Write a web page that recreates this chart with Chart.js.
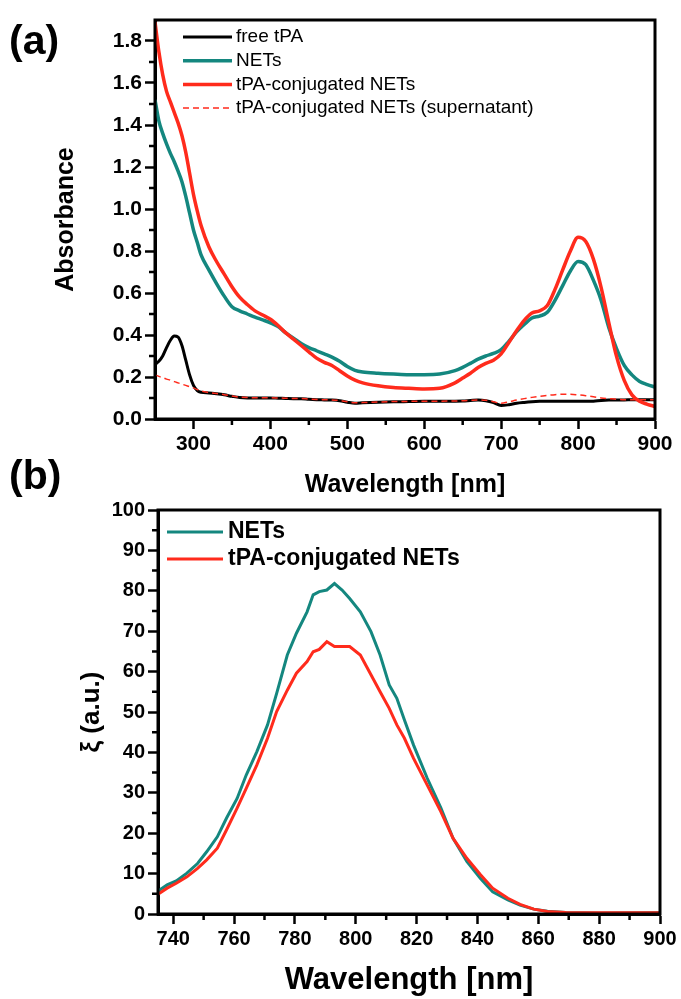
<!DOCTYPE html>
<html>
<head>
<meta charset="utf-8">
<script src="https://cdn.jsdelivr.net/npm/chart.js@4.4.0/dist/chart.umd.min.js"></script>
<style>
  body { margin: 0; background: #fff; width: 681px; height: 999px; position: relative; overflow: hidden; }
  canvas { position: absolute; left: 0; }
  #chartA { top: 0; }
  #chartB { top: 500px; }
  .tag { position: absolute; left: 9px; font: bold 41px 'Liberation Sans', Arial, sans-serif; line-height: 1; }
</style>
</head>
<body>
<canvas id="chartA" width="681" height="500"></canvas>
<canvas id="chartB" width="681" height="499"></canvas>
<div class="tag" style="top:20px">(a)</div>
<div class="tag" style="top:455px">(b)</div>
<script>
const FONT = "'Liberation Sans', Arial, sans-serif";
const TEAL = '#14877f';
const RED = '#ff2b1c';

// (a) absorbance spectra
const wavelengthA = [250,255,260,265,270,275,280,285,290,295,300,305,310,
  320,330,340,350,360,370,380,390,400,410,420,430,440,450,460,470,480,490,500,510,520,
  540,560,580,600,620,640,
  650,660,670,680,690,700,710,720,730,740,750,760,770,780,790,800,810,820,830,840,850,860,870,880,890,900];
const freeTPA = [0.26,0.275,0.30,0.34,0.375,0.395,0.39,0.35,0.28,0.21,0.16,0.135,0.127,
  0.124,0.12,0.115,0.108,0.102,0.1,0.1,0.1,0.1,0.099,0.098,0.097,0.097,0.094,0.092,0.091,0.09,0.087,0.08,0.075,0.077,
  0.08,0.082,0.083,0.084,0.084,0.085,
  0.086,0.088,0.09,0.087,0.078,0.064,0.068,0.075,0.079,0.082,0.084,0.085,0.085,0.085,0.084,0.084,0.084,0.085,0.088,0.09,0.091,0.091,0.092,0.092,0.092,0.092];
const netsAbs = [1.52,1.42,1.36,1.31,1.265,1.225,1.18,1.13,1.06,0.98,0.9,0.84,0.78,
  0.71,0.645,0.585,0.535,0.515,0.5,0.485,0.472,0.458,0.44,0.41,0.385,0.36,0.34,0.325,0.31,0.295,0.275,0.25,0.232,0.224,
  0.218,0.214,0.211,0.211,0.214,0.23,
  0.246,0.265,0.285,0.3,0.312,0.33,0.37,0.415,0.45,0.481,0.49,0.508,0.565,0.635,0.705,0.75,0.735,0.66,0.565,0.435,0.335,0.255,0.21,0.179,0.164,0.152];
const conjAbs = [1.89,1.75,1.64,1.56,1.51,1.46,1.41,1.35,1.27,1.17,1.07,0.99,0.92,
  0.82,0.75,0.69,0.63,0.58,0.545,0.515,0.495,0.475,0.445,0.41,0.38,0.35,0.32,0.29,0.27,0.255,0.23,0.205,0.185,0.172,
  0.158,0.15,0.146,0.143,0.146,0.172,
  0.195,0.218,0.245,0.265,0.28,0.31,0.364,0.42,0.47,0.505,0.515,0.54,0.617,0.71,0.80,0.865,0.845,0.76,0.626,0.458,0.298,0.184,0.115,0.084,0.07,0.06];
const supernatantAbs = [0.21,0.203,0.197,0.19,0.185,0.178,0.172,0.166,0.16,0.154,0.148,0.14,0.133,
  0.126,0.121,0.116,0.109,0.104,0.102,0.101,0.101,0.101,0.1,0.099,0.098,0.098,0.095,0.093,0.092,0.091,0.088,0.082,0.077,0.078,
  0.081,0.083,0.084,0.085,0.085,0.086,
  0.087,0.089,0.091,0.089,0.082,0.075,0.082,0.09,0.097,0.103,0.108,0.112,0.116,0.118,0.118,0.115,0.111,0.106,0.1,0.097,0.094,0.092,0.092,0.092,0.092,0.092];
const xTicksA = [300,400,500,600,700,800,900];
const xMinorA = [350,450,550,650,750,850];
const yTicksA = [0,0.2,0.4,0.6,0.8,1.0,1.2,1.4,1.6,1.8];
const yMinorA = [0.1,0.3,0.5,0.7,0.9,1.1,1.3,1.5,1.7];

// (b) xi spectra
const wavelengthB = [735,738,741,744.5,748,751,754.5,757.5,761,764,767.5,771,774,777.5,780.5,784,786,788,790.5,793,
  795.5,798,801.5,805,808,811,813.5,816,819,823.5,828,832,836.5,841,845,850,854,858.5,863,869,875,880,890,900];
const netsXi = [5.7,7.2,8.2,10.1,12.5,15.4,19.1,23.7,28.6,34.4,40.2,46.8,54.6,64.1,69.5,74.8,79,79.8,80.2,81.8,
  80.2,78.1,74.8,69.9,64.1,56.7,53.4,48,41.8,33.6,26.2,18.7,13,8.8,5.5,3.5,2.2,1.2,0.7,0.4,0.3,0.25,0.3,0.4];
const conjXi = [4.9,6.4,7.6,9.2,11.3,13.4,16.3,20.8,26.2,31.1,36.9,43.5,50.1,55.4,59.6,62.5,64.9,65.5,67.4,66.2,
  66.2,66.2,64.1,59.2,55,50.9,46.8,43.5,38.5,31.9,25.3,18.7,13.8,9.7,6.4,3.9,2.4,1.2,0.6,0.4,0.3,0.3,0.3,0.3];
const xTicksB = [740,760,780,800,820,840,860,880,900];
const xMinorB = [750,770,790,810,830,850,870,890];
const yTicksB = [0,10,20,30,40,50,60,70,80,90,100];
const yMinorB = [5,15,25,35,45,55,65,75,85,95];

const pts = (xs, ys) => xs.map((x, i) => ({ x: x, y: ys[i] }));

// frame on all four sides + short minor ticks
const frameMinor = {
  id: 'frameMinor',
  afterDatasetsDraw(chart, args, o) {
    const { ctx, chartArea: a, scales } = chart;
    ctx.save();
    ctx.strokeStyle = '#000';
    ctx.lineWidth = 2.5;
    ctx.beginPath();
    o.xMinor.forEach(v => {
      const px = scales.x.getPixelForValue(v);
      ctx.moveTo(px, a.bottom); ctx.lineTo(px, a.bottom + 6);
    });
    o.yMinor.forEach(v => {
      const py = scales.y.getPixelForValue(v);
      ctx.moveTo(a.left, py); ctx.lineTo(a.left - 6, py);
    });
    ctx.stroke();
    ctx.lineWidth = 3;
    ctx.strokeRect(a.left, a.top, a.right - a.left, a.bottom - a.top);
    ctx.restore();
  }
};

// legend drawn inside the plot box
const insideLegend = {
  id: 'insideLegend',
  afterDraw(chart, args, o) {
    const ctx = chart.ctx;
    ctx.save();
    ctx.font = o.font;
    ctx.textBaseline = 'middle';
    chart.data.datasets.forEach((ds, i) => {
      const y = o.y + i * o.rowGap;
      ctx.strokeStyle = ds.borderColor;
      ctx.lineWidth = ds.borderWidth;
      ctx.setLineDash(ds.borderDash || []);
      ctx.beginPath();
      ctx.moveTo(o.x, y); ctx.lineTo(o.x + o.lineLen, y);
      ctx.stroke();
      ctx.setLineDash([]);
      ctx.fillStyle = '#000';
      ctx.fillText(ds.label, o.x + o.lineLen + o.gap, y);
    });
    ctx.restore();
  }
};

function axis(c) {
  return {
    type: 'linear',
    min: c.min, max: c.max,
    afterBuildTicks: s => { s.ticks = c.ticks.map(v => ({ value: v })); },
    afterFit: s => {
      if (c.isX) { s.height = c.size; s.paddingLeft = 0; s.paddingRight = 0; }
      else { s.width = c.size; s.paddingTop = 0; s.paddingBottom = 0; }
    },
    grid: { drawOnChartArea: false, drawTicks: true, tickLength: 10, tickWidth: 2.5, tickColor: '#000' },
    border: { display: true, width: 3, color: '#000' },
    ticks: {
      color: '#000', padding: 3, maxRotation: 0, autoSkip: false,
      font: { family: FONT, size: c.tickSize || 20, weight: 'bold' },
      callback: c.fmt || (v => String(v))
    },
    title: {
      display: true, text: c.title, color: '#000',
      font: { family: FONT, size: c.titleSize, weight: 'bold' },
      padding: c.titlePad
    }
  };
}

const lineDefaults = { pointRadius: 0, fill: false, cubicInterpolationMode: 'monotone' };

new Chart(document.getElementById('chartA'), {
  type: 'line',
  data: {
    datasets: [
      { ...lineDefaults, label: 'free tPA', data: pts(wavelengthA, freeTPA), borderColor: '#000', borderWidth: 3, order: 4 },
      { ...lineDefaults, label: 'NETs', data: pts(wavelengthA, netsAbs), borderColor: TEAL, borderWidth: 3.5, order: 3 },
      { ...lineDefaults, label: 'tPA-conjugated NETs', data: pts(wavelengthA, conjAbs), borderColor: RED, borderWidth: 3.5, order: 2 },
      { ...lineDefaults, label: 'tPA-conjugated NETs (supernatant)', data: pts(wavelengthA, supernatantAbs), borderColor: RED, borderWidth: 1.5, borderDash: [6, 4], order: 1 }
    ]
  },
  options: {
    responsive: false, animation: false, devicePixelRatio: 1,
    layout: { padding: { top: 20, right: 26, left: 0, bottom: 0 } },
    plugins: {
      legend: { display: false }, tooltip: { enabled: false },
      frameMinor: { xMinor: xMinorA, yMinor: yMinorA },
      insideLegend: { x: 183, y: 37, rowGap: 23.7, lineLen: 49, gap: 4, font: '19px ' + FONT }
    },
    scales: {
      x: axis({ isX: true, min: 250, max: 900, ticks: xTicksA, size: 81, tickSize: 21, title: 'Wavelength [nm]', titleSize: 25, titlePad: 0 }),
      y: axis({ min: 0, max: 1.9, ticks: yTicksA, size: 155, tickSize: 21, title: 'Absorbance', titleSize: 25,
        titlePad: { top: 51, bottom: 0 }, fmt: v => v.toFixed(1) })
    }
  },
  plugins: [frameMinor, insideLegend]
});

new Chart(document.getElementById('chartB'), {
  type: 'line',
  data: {
    datasets: [
      { label: 'NETs', data: pts(wavelengthB, netsXi), borderColor: TEAL, borderWidth: 3, pointRadius: 0, tension: 0, order: 2 },
      { label: 'tPA-conjugated NETs', data: pts(wavelengthB, conjXi), borderColor: RED, borderWidth: 3, pointRadius: 0, tension: 0, order: 1 }
    ]
  },
  options: {
    responsive: false, animation: false, devicePixelRatio: 1,
    layout: { padding: { top: 10, right: 21, left: 0, bottom: 0 } },
    plugins: {
      legend: { display: false }, tooltip: { enabled: false },
      frameMinor: { xMinor: xMinorB, yMinor: yMinorB },
      insideLegend: { x: 167, y: 32, rowGap: 27, lineLen: 56, gap: 5, font: 'bold 23px ' + FONT }
    },
    scales: {
      x: axis({ isX: true, min: 735, max: 900, ticks: xTicksB, size: 85, title: 'Wavelength [nm]', titleSize: 31, titlePad: 0 }),
      y: axis({ min: 0, max: 100, ticks: yTicksB, size: 158, title: '\u03BE (a.u.)', titleSize: 26,
        titlePad: { top: 76, bottom: 0 } })
    }
  },
  plugins: [frameMinor, insideLegend]
});
</script>
</body>
</html>
